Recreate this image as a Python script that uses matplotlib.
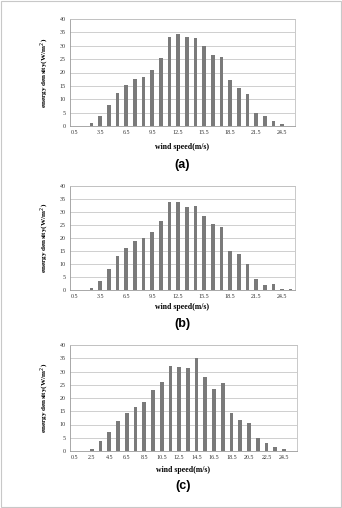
import matplotlib
matplotlib.use("Agg")
import matplotlib.pyplot as plt
from matplotlib.patches import Rectangle

# velocidades (categorias del eje x)
velocidades = [0.5 + i for i in range(26)]

# densidad de energia
densidad_a = [0, 0, 1.0, 3.7, 7.8, 12.3, 15.3, 17.7, 18.5, 21.0, 25.4, 33.2, 34.3,
              33.2, 32.9, 29.9, 26.4, 25.7, 17.2, 14.3, 12.1, 4.9, 3.8, 1.7, 0.8, 0]
densidad_b = [0, 0, 0.9, 3.5, 7.9, 13.1, 16.3, 18.7, 20.1, 22.4, 26.7, 34.0, 33.8,
              31.9, 32.2, 28.3, 25.3, 24.2, 15.1, 13.7, 10.0, 4.2, 1.9, 2.2, 0.2, 0.2]
densidad_c = [0.1, 0.1, 0.9, 3.6, 7.3, 11.3, 14.2, 16.7, 18.6, 23.1, 26.0, 31.9, 31.6,
              31.3, 35.0, 28.0, 23.4, 25.8, 14.5, 11.7, 10.6, 4.8, 3.1, 1.5, 0.9, 0]

W, H = 342, 508
fig = plt.figure(figsize=(W / 100, H / 100), dpi=100)
fig.patches.append(Rectangle((0.003, 0.002), 0.994, 0.996, transform=fig.transFigure,
                             fill=False, edgecolor="#c8c8c8", linewidth=0.8))

serif = ["Liberation Serif", "DejaVu Serif"]
narrow = ["Liberation Sans Narrow", "Liberation Sans", "DejaVu Sans"]


def panel(datos, caja, paso, letra, y_xlabel, y_letra):
    x0, y0, x1, y1 = caja  # en pixeles, y desde arriba
    ax = fig.add_axes([x0 / W, 1 - y1 / H, (x1 - x0) / W, (y1 - y0) / H])
    idx = list(range(len(velocidades)))
    ax.bar(idx, datos, width=0.42, color="#7a7a7a", zorder=3)
    ax.set_xlim(-0.5, len(velocidades) - 0.5)
    ax.set_ylim(0, 40)
    ax.set_yticks(range(0, 41, 5))
    ax.set_yticklabels([str(v) for v in range(0, 41, 5)], fontsize=4.3,
                       family=serif, color="#333333")
    ax.set_xticks(idx[::paso])
    ax.set_xticklabels([f"{v:.1f}" for v in velocidades[::paso]], fontsize=4.3,
                       family=serif, color="#333333")
    ax.tick_params(length=0, pad=3)
    ax.grid(axis="y", color="#c8c8c8", linewidth=0.6, zorder=0)
    for s in ax.spines.values():
        s.set_color("#c0c0c0")
        s.set_linewidth(0.6)
    ax.spines["left"].set_color("#9a9a9a")
    ax.spines["bottom"].set_color("#9a9a9a")
    ax.set_ylabel("energy density(W/m$^2$)", fontsize=5.2, family=serif,
                  fontweight="bold", labelpad=6)
    fig.text((x0 + x1) / 2 / W, 1 - y_xlabel / H, "wind speed(m/s)", fontsize=5.6,
             family=serif, fontweight="bold", ha="center", va="center")
    fig.text((x0 + x1) / 2 / W, 1 - y_letra / H, letra, fontsize=9,
             family=narrow, fontweight="bold", ha="center", va="center")
    return ax


panel(densidad_a, (70, 19, 295, 126), 3, "(a)", 147, 165)
panel(densidad_b, (70, 186, 295, 290), 3, "(b)", 307, 324)
panel(densidad_c, (70, 345, 297, 451), 2, "(c)", 470, 486)

fig.savefig("out.png", dpi=100)
